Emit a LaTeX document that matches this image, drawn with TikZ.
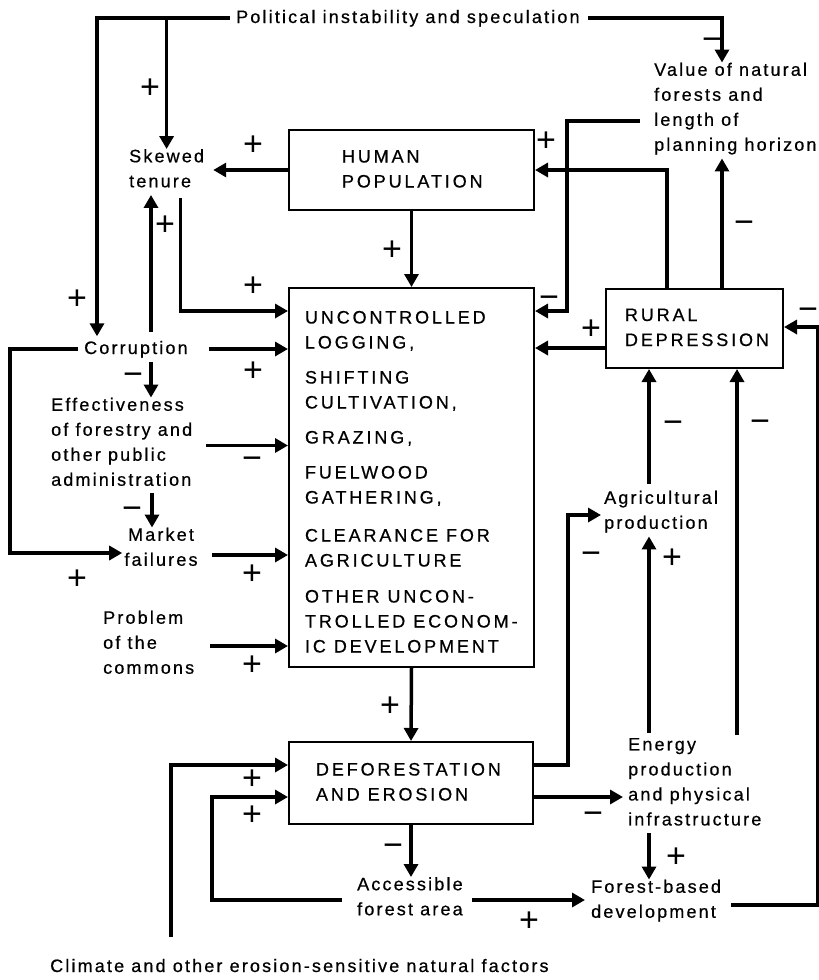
\documentclass[tikz,border=0pt]{standalone}
\usepackage{fontspec}
\setmainfont{Liberation Sans}[LetterSpace=12,FakeBold=0.6]
\newfontfamily\boxfont{Liberation Sans}[LetterSpace=16,FakeBold=0.6]
\newfontfamily\signfont{Liberation Sans}
\newcommand\wsp{\nobreak\hskip 8pt\relax}
\usetikzlibrary{arrows.meta,calc}
\tikzset{
 x=1pt,y=-1pt,
 txt/.style={inner sep=0pt, align=left, font=\fontsize{18}{25}\selectfont, execute at begin node=\strut, execute at end node=\strut},
 box/.style={draw, line width=2pt, inner sep=0pt, font=\boxfont\fontsize{18}{25}\selectfont, align=left, execute at begin node=\strut, execute at end node=\strut},
 arr/.style={line width=3.5pt, -{Triangle[length=13pt,width=14pt]}},
 sg/.style={inner sep=0pt, anchor=base, font=\signfont\fontsize{34}{34}\selectfont},
}
\begin{document}
\begin{tikzpicture}
\useasboundingbox (0,0) rectangle (819,980);
% ---------- nodes ----------
\node[txt,anchor=west] (pol) at (236,18) {Political instability and speculation};
\node[txt,anchor=west] (val) at (654,110.5) {Value of natural\\forests and\\length of\\planning horizon};
\node[txt,anchor=west] (skew) at (129,172) {Skewed\\tenure};
\node[box,minimum width=245pt,minimum height=80pt,text width=139pt] (hp) at (411.5,170) {HUMAN\\POPULATION};
\node[box,minimum width=245pt,minimum height=379pt,text width=213pt] (main) at (411.5,477.5)
 {\rule{0pt}{28.5pt}UNCONTROLLED\\LOGGING,\\[10pt]SHIFTING\\CULTIVATION,\\[10pt]GRAZING,\\[10pt]FUELWOOD\\GATHERING,\\[13pt]CLEARANCE\wsp FOR\\AGRICULTURE\\[11pt]OTHER\wsp UNCON-\\TROLLED\wsp ECONOM-\\IC\wsp DEVELOPMENT};
\node[box,minimum width=177pt,minimum height=79pt,text width=139pt] (rural) at (694.5,328.5) {RURAL\\DEPRESSION};
\node[box,minimum width=244pt,minimum height=82pt,text width=190pt] (defo) at (411,783) {DEFORESTATION\\AND\wsp EROSION};
\node[txt,anchor=west] (corr) at (84,349) {Corruption};
\node[txt,anchor=west] (eff) at (51,445.5) {Effectiveness\\of forestry and\\other public\\administration};
\node[txt,align=center] (mkt) at (161,550.5) {Market\\failures};
\node[txt,anchor=west] (prob) at (103,646) {Problem\\of the\\commons};
\node[txt,anchor=west] (agri) at (604,513.5) {Agricultural\\production};
\node[txt,anchor=west] (energy) at (628,785.5) {Energy\\production\\and physical\\infrastructure};
\node[txt,anchor=west] (acc) at (357,900) {Accessible\\forest area};
\node[txt,anchor=west] (fbd) at (591,902.5) {Forest-based\\development};
\node[txt,anchor=west] (clim) at (50,967) {Climate and other erosion-sensitive natural factors};
% ---------- connectors ----------
\draw[arr] ([xshift=-6pt]pol.west) -| ([xshift=13pt]corr.north west);
\draw[arr] (pol.west -| skew.north) -- (skew.north);
\draw[arr] ([xshift=8pt]pol.east) -| ([xshift=68pt]val.north west);
\draw[arr] (hp.west) -- ([xshift=9pt]hp.west -| skew.east);
\draw[arr] ([xshift=67pt,yshift=4.5pt]corr.north west) -- ([xshift=67pt]corr.north west |- skew.south);
\draw[arr] ([xshift=14pt,yshift=-3pt]skew.south) |- ([yshift=-24pt]main.north west);
\draw[arr] (hp.south) -- (main.north);
\draw[arr] ([xshift=21pt]corr.east) -- (corr.east -| main.west);
\draw[arr] ([xshift=67pt]corr.south west) -- ([xshift=67pt]corr.south west |- eff.north);
\draw[arr] ([xshift=-6pt]corr.west) -- ++(-68pt,0pt) |- ([xshift=-2pt,yshift=-2.5pt]mkt.west);
\draw[arr] ([xshift=14pt]eff.east) -- (eff.east -| main.west);
\draw[arr] ([xshift=101pt]eff.south west) -- ([xshift=101pt]eff.south west |- mkt.north);
\draw[arr] ([xshift=14pt,yshift=-4.5pt]mkt.east) -- ([yshift=-4.5pt]mkt.east -| main.west);
\draw[arr] ([xshift=16pt]prob.east) -- (prob.east -| main.west);
\draw[arr] (main.south) -- (defo.north);
\draw[arr] ([xshift=121pt,yshift=17pt]clim.north west) |- ([yshift=18pt]defo.west);
\draw[arr] ([xshift=-15pt]acc.west) -- ++(-130pt,0pt) |- ([yshift=-14pt]defo.west);
\draw[arr] (defo.south) -- (defo.south |- acc.north);
\draw[arr] ([xshift=9pt]acc.east) -- ([xshift=-6pt]fbd.west |- acc.east);
\draw[arr] ([xshift=10pt,yshift=-2.5pt]fbd.east) -| ([xshift=34pt,yshift=1.5pt]rural.east) -- ([yshift=1.5pt]rural.east);
\draw[arr] ([yshift=18pt]defo.east) -- ++(34pt,0pt) |- ([xshift=-3pt,yshift=-1.5pt]agri.west);
\draw[arr] ([yshift=-14pt]defo.east) -- ([xshift=-5pt,yshift=-14pt]defo.east -| energy.west);
\draw[arr] ([xshift=21pt,yshift=5pt]energy.north west) -- ([xshift=21pt]energy.north west |- agri.south);
\draw[arr] ([xshift=21pt]energy.south west) -- ([xshift=21pt]energy.south west |- fbd.north);
\draw[arr] ([xshift=109pt,yshift=3pt]energy.north west) -- ([xshift=109pt]energy.north west |- rural.south);
\draw[arr] ([xshift=45pt,yshift=7pt]agri.north west) -- ([xshift=45pt]agri.north west |- rural.south);
\draw[arr] ([yshift=-19.5pt]rural.west) -- ([yshift=-19.5pt]rural.west -| main.east);
\draw[arr] ([xshift=-14pt,yshift=-10.5pt]val.west) -- ++(-73pt,0pt) |- ([yshift=-24pt]main.north east);
\draw[arr] ([xshift=-27.5pt]rural.north) |- (hp.east);
\draw[arr] ([xshift=27.5pt]rural.north) -- ([xshift=27.5pt]rural.north |- val.south);
% ---------- signs ----------
\foreach \px/\py/\s [count=\i] in {150/86/+, 712/38/−, 253/143/+, 546/139/+, 744/221/−, 165/223/+, 392/248/+, 253/284/+, 77/297/+, 549/296/−, 591/327/+, 808/308/−, 253/369/+, 133/373/−, 252/457/−, 132/507/−, 77/577/+, 252/572/+, 252/663/+, 673/421/−, 760/420/−, 591/552/−, 672/556/+, 390/704/+, 252/777/+, 252/813/+, 393/844/−, 593/812/−, 676/855/+, 529/919/+}
  \node[sg] (s\i) at (\px,\py+12) {\s};
\end{tikzpicture}
\end{document}
